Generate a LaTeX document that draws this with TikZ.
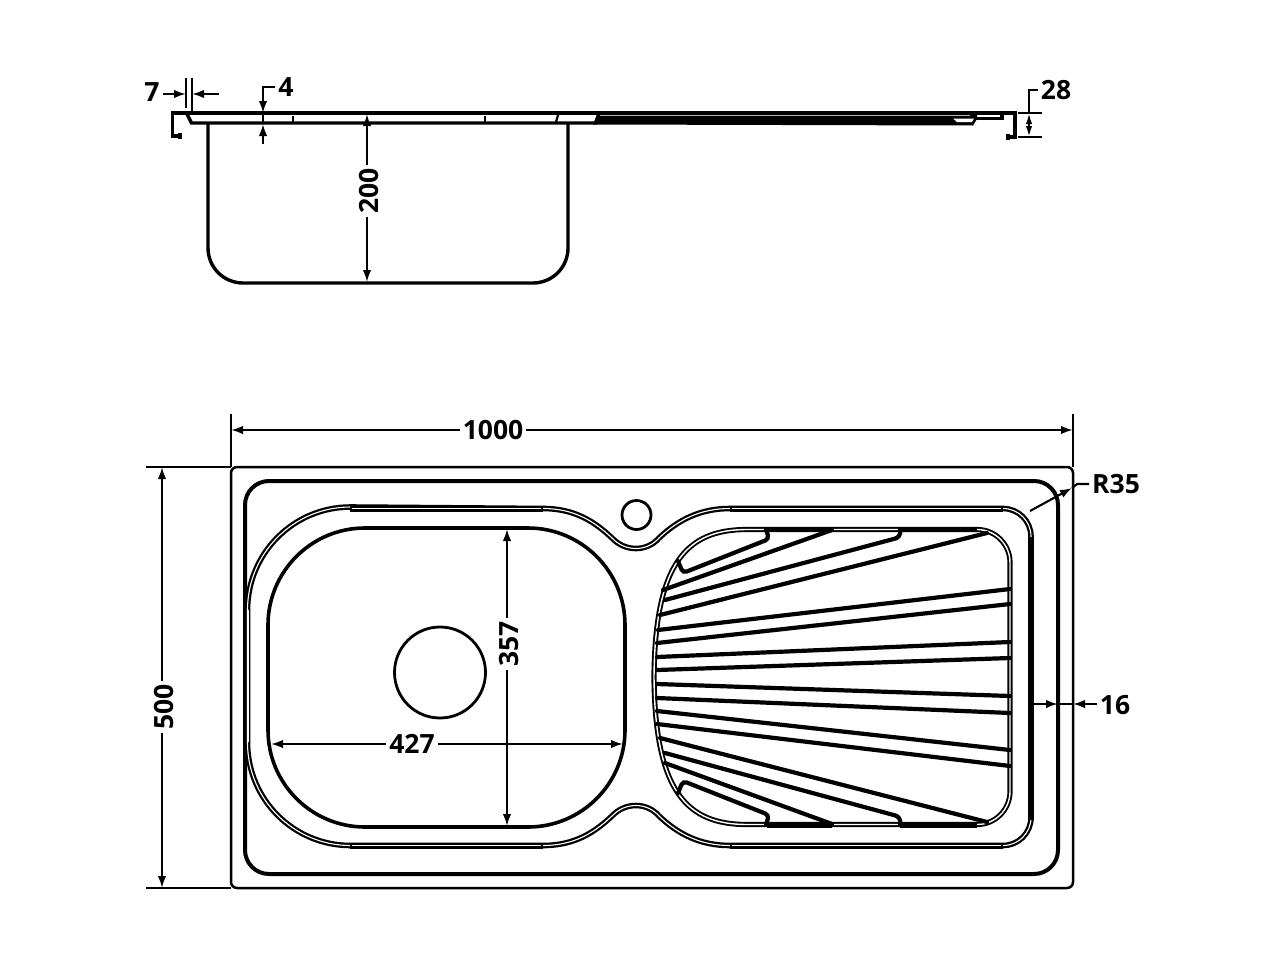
\documentclass[tikz,border=0pt]{standalone}
\usepackage{fontspec}
\setmainfont{Open Sans}
\usetikzlibrary{arrows.meta}
\tikzset{
  dimtext/.style={font=\bfseries\fontsize{26.5}{26.5}\selectfont,text=black,inner sep=3pt,outer sep=0pt},
  dimline/.style={line width=2.1pt,-{Latex[length=12pt,width=8.5pt]}},
  thinline/.style={line width=2.1pt},
  edge/.style={line width=2.5pt},
  heavy/.style={line width=3.4pt},
  rib/.style={line width=4.2pt,line cap=round},
  dblout/.style={line width=5.6pt},
  dblin/.style={line width=1.1pt,white},
}
\begin{document}
\begin{tikzpicture}[x=1pt,y=-1pt]
\useasboundingbox (0,0) rectangle (1285,964);
\fill[white] (0,0) rectangle (1285,964);
% --- side view ---
\draw[heavy] (180,136) -- (172.5,136) -- (172.5,113) -- (1015,113) -- (1015,137) -- (1008,137);
\fill (178,133) rectangle (181.5,139);
\fill (1006,134) rectangle (1010,140);
\draw[heavy] (187,114) -- (191.5,123) -- (597,123);
\draw[line width=2.2pt] (293,116) -- (293,122);
\draw[line width=2.2pt] (485,116) -- (485,122);
\draw[line width=2.2pt] (558,115) -- (556,122);
\fill (597,114) -- (977,114) -- (977,119) -- (973,125.5) -- (593,124.5) -- cycle;
\draw[line width=.5pt,gray!60] (600,115.4) -- (970,115.4);
\fill[white] (953,118.5) -- (974,118.5) -- (972,122) -- (957,122) -- cycle;
\draw[heavy] (975,118.5) -- (1002,118.5) -- (1002,114);
\draw[heavy] (208,124) -- (208,248) arc[start angle=180,end angle=90,radius=35] -- (533,283) arc[start angle=90,end angle=0,radius=35] -- (568,124);
% --- front view outlines ---
\draw[edge,rounded corners=6pt] (231,467) rectangle (1073,888);
\draw[line width=4pt,rounded corners=24pt] (245,481) rectangle (1058,874);
% bowl & holes
\draw[line width=3.6pt,rounded corners=97pt] (268,528) rectangle (625,827);
\node[circle,draw,line width=2.8pt,minimum size=91pt,inner sep=0pt] (drain) at (440,672.5) {};
\node[circle,draw,line width=2.8pt,minimum size=29pt,inner sep=0pt] (tap) at (636.5,515) {};
% double contour
\def\contour{(247.5,742) -- (247.5,610) arc[start angle=180,end angle=270,radius=103] -- (543,508.5)
  .. controls (575,508.5) and (595,522) .. (612,538) .. controls (625,552) and (647,552) .. (659,538)
  .. controls (678,520) and (700,508.5) .. (730,508.5) -- (1003,508.5) arc[start angle=-90,end angle=0,radius=28] -- (1031,817.5)
  arc[start angle=0,end angle=90,radius=28] -- (730,845.5)
  .. controls (700,845.5) and (678,834) .. (659,816) .. controls (647,802) and (625,802) .. (612,816)
  .. controls (595,832) and (575,845.5) .. (543,845.5) -- (350.5,845.5) arc[start angle=90,end angle=180,radius=103] -- cycle}
\draw[dblout] \contour;
\draw[dblin] \contour;
\foreach \a/\b in {350/543,730/1003}{
  \fill (\a,505.5) rectangle (\b,511.5);
  \fill (\a,842.5) rectangle (\b,848.5);
}
\fill[white] (352,508) rectangle (541,509.2);
\fill[white] (732,508) rectangle (1001,509.2);
\fill[white] (352,844.8) rectangle (541,846);
\fill[white] (732,844.8) rectangle (1001,846);
\fill (1029.5,537) rectangle (1034,820);
\fill[white] (246.8,610) rectangle (249.2,742);
% drainer contour
\def\drainer{(747,529.5) .. controls (687,529.5) and (655,562) .. (654,677)
  .. controls (655,792) and (687,824.5) .. (747,824.5) -- (977,824.5) arc[start angle=90,end angle=0,radius=33] -- (1010,562.5)
  arc[start angle=0,end angle=-90,radius=33] -- cycle}
\draw[line width=5.2pt] \drainer;
\draw[line width=1.4pt,white] \drainer;
\foreach \a/\b in {767/832,900/977}{
  \fill (\a,526.5) rectangle (\b,531.5);
  \fill (\a,822.5) rectangle (\b,827.5);
}
% ribs
\draw[rib] (663,590) -- (832,530);
\draw[rib] (660,615) -- (987,533);
\draw[rib] (658,630) -- (1010,589);
\draw[rib] (657,643) -- (1010,604);
\draw[rib] (657,657) -- (1010,642);
\draw[rib] (657,670) -- (1010,658);
\draw[rib] (657,684) -- (1010,696);
\draw[rib] (657,698) -- (1010,713);
\draw[rib] (657,711) -- (1010,750);
\draw[rib] (657,724) -- (1010,766);
\draw[rib] (660,738) -- (987,822);
\draw[rib] (665,763) -- (832,824);
\draw[rib,rounded corners=6pt] (665,600) -- (901,537) -- (900,529);
\draw[rib,rounded corners=6pt] (665,753) -- (901,817) -- (900,825);
\draw[rib,rounded corners=4pt] (766,529) -- (769,539) -- (683,573) -- (678,561);
\draw[rib,rounded corners=4pt] (766,825) -- (769,815) -- (683,781) -- (678,793);
% --- dimensions ---
\node[dimtext,anchor=center] (t7) at (152,92) {7};
\coordinate (a7l) at (186,94); \coordinate (a7r) at (192,94); \coordinate (e7) at (219,94);
\coordinate (x7a) at (186,78); \coordinate (x7b) at (186,108);
\coordinate (x7c) at (192,78); \coordinate (x7d) at (192,113);
\draw[thinline] (x7a) -- (x7b); \draw[thinline] (x7c) -- (x7d);
\draw[dimline] (t7.east |- a7l) -- (a7l);
\draw[dimline] (e7) -- (a7r);
\node[dimtext,anchor=center] (t4) at (286,87) {4};
\coordinate (a4t) at (263,113); \coordinate (a4b) at (263,124); \coordinate (e4) at (263,144);
\draw[dimline] (t4.west) -- (263,87) -- (a4t);
\draw[dimline] (e4) -- (a4b);
\draw[thinline] (a4t) -- (a4b);
\node[dimtext,anchor=center] (t28) at (1056,90) {28};
\coordinate (x28a) at (1018,113); \coordinate (x28b) at (1042,113);
\coordinate (x28c) at (1018,137); \coordinate (x28d) at (1042,137);
\coordinate (a28t) at (1029,113); \coordinate (a28b) at (1029,137);
\draw[thinline] (x28a) -- (x28b); \draw[thinline] (x28c) -- (x28d);
\draw[thinline] (t28.west) -- (1029,90) -- (a28t);
\draw[line width=2.1pt,{Latex[length=11pt,width=6.5pt]}-{Latex[length=11pt,width=6.5pt]}] (a28t) -- (a28b);
\node[dimtext,rotate=90,anchor=center] (t200) at (369,191) {200};
\coordinate (a200t) at (367,114); \coordinate (a200b) at (367,282);
\draw[dimline] (t200.east -| a200t) -- (a200t);
\draw[dimline] (t200.west -| a200b) -- (a200b);
\node[dimtext,anchor=center] (t1000) at (493,430) {1000};
\coordinate (a1l) at (231,430); \coordinate (a1r) at (1073,430);
\coordinate (x1a) at (231,414); \coordinate (x1b) at (231,467);
\coordinate (x1c) at (1073,414); \coordinate (x1d) at (1073,467);
\draw[thinline] (x1a) -- (x1b); \draw[thinline] (x1c) -- (x1d);
\draw[dimline] (t1000) -- (a1l);
\draw[dimline] (t1000) -- (a1r);
\node[dimtext,rotate=90,anchor=center] (t500) at (164,707) {500};
\coordinate (a5t) at (162,467); \coordinate (a5b) at (162,888);
\coordinate (x5a) at (146,467); \coordinate (x5b) at (231,467);
\coordinate (x5c) at (146,888); \coordinate (x5d) at (231,888);
\draw[thinline] (x5a) -- (x5b); \draw[thinline] (x5c) -- (x5d);
\draw[dimline] (t500.east -| a5t) -- (a5t);
\draw[dimline] (t500.west -| a5b) -- (a5b);
\node[dimtext,rotate=90,anchor=center] (t357) at (509,644) {357};
\coordinate (a3t) at (507,529); \coordinate (a3b) at (507,826);
\draw[dimline] (t357.east -| a3t) -- (a3t);
\draw[dimline] (t357.west -| a3b) -- (a3b);
\node[dimtext,anchor=center] (t427) at (412,744) {427};
\coordinate (a4l) at (271,744); \coordinate (a4r) at (623,744);
\draw[dimline] (t427) -- (a4l);
\draw[dimline] (t427) -- (a4r);
\node[dimtext,anchor=center] (tr) at (1116,484) {R35};
\coordinate (ar) at (1072,488); \coordinate (er) at (1030,511);
\draw[thinline] (tr.west) -- (1077,484) -- (ar);
\draw[dimline] (er) -- (ar);
\node[dimtext,anchor=center] (t16) at (1115,705) {16};
\coordinate (a16a) at (1073,704); \coordinate (a16b) at (1058,704); \coordinate (e16) at (1031,704);
\draw[dimline] (t16.west |- a16a) -- (a16a);
\draw[dimline] (e16) -- (a16b);
\draw[thinline] (a16b) -- (a16a);
\end{tikzpicture}
\end{document}
